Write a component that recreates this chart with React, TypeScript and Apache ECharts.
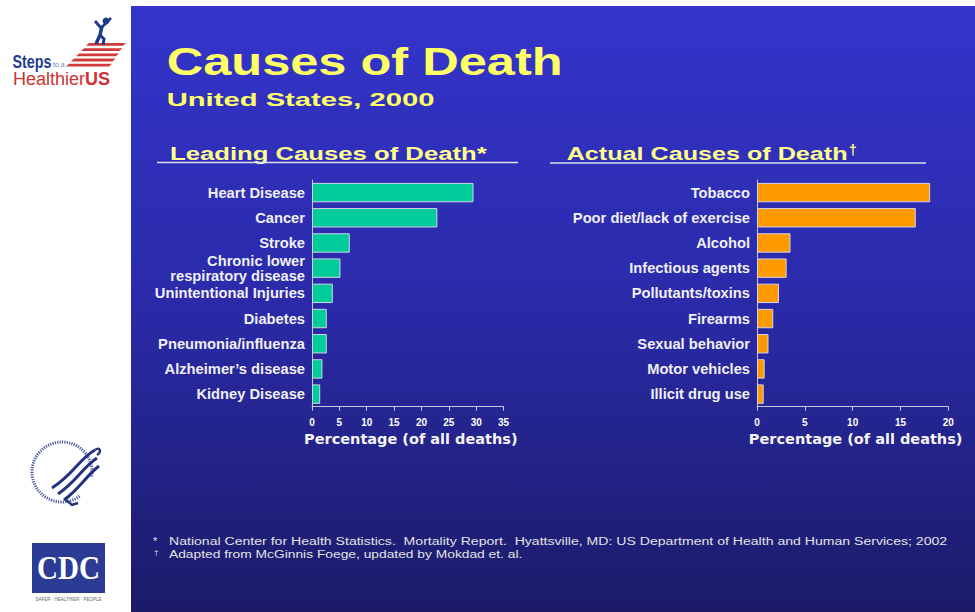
import React, { useEffect, useRef } from "react";
import * as echarts from "echarts";

// ---- data ----
const leadingCauses = [
  "Heart Disease",
  "Cancer",
  "Stroke",
  "Chronic lower\nrespiratory disease",
  "Unintentional Injuries",
  "Diabetes",
  "Pneumonia/influenza",
  "Alzheimer’s disease",
  "Kidney Disease",
];
const leadingValues = [29.5, 22.9, 6.9, 5.2, 3.8, 2.7, 2.7, 1.9, 1.5];

const actualCauses = [
  "Tobacco",
  "Poor diet/lack of exercise",
  "Alcohol",
  "Infectious agents",
  "Pollutants/toxins",
  "Firearms",
  "Sexual behavior",
  "Motor vehicles",
  "Illicit drug use",
];
const actualValues = [18.1, 16.6, 3.5, 3.1, 2.3, 1.7, 1.2, 0.8, 0.7];

const leadingAxis = { min: 0, max: 35, interval: 5 };
const actualAxis = { min: 0, max: 20, interval: 5 };

const title = "Causes of Death";
const subtitle = "United States, 2000";
const leftHeading = "Leading Causes of Death*";
const rightHeading = "Actual Causes of Death";
const axisName = "Percentage (of all deaths)";
const footnote1 =
  "National Center for Health Statistics.  Mortality Report.  Hyattsville, MD: US Department of Health and Human Services; 2002";
const footnote2 = "Adapted from McGinnis Foege, updated by Mokdad et. al.";

const SANS = '"Liberation Sans", Arial, sans-serif';
const WIDE = '"DejaVu Sans", Verdana, sans-serif';

function measure(text: string, font: string): number {
  const c = document.createElement("canvas").getContext("2d");
  if (!c) return 1;
  c.font = font;
  return c.measureText(text).width || 1;
}

function fitText(
  text: string,
  x: number,
  y: number,
  size: number,
  weight: string,
  family: string,
  color: string,
  targetWidth: number,
  extra: any = {}
) {
  const w = measure(text, `${weight} ${size}px ${family}`);
  return {
    type: "text",
    x,
    y,
    scaleX: targetWidth / w,
    z: 10,
    silent: true,
    style: {
      text,
      fill: color,
      fontSize: size,
      fontWeight: weight,
      fontFamily: family,
      align: "left",
      verticalAlign: "middle",
    },
    ...extra,
  };
}

export default function App() {
  const ref = useRef<HTMLDivElement>(null);

  useEffect(() => {
    if (!ref.current) return;
    const chart = echarts.init(ref.current, null, { renderer: "svg" });

    const axisColor = "#c8c8de";
    const catLabel = {
      color: "#f0f0f4",
      fontFamily: SANS,
      fontWeight: "bold",
      fontSize: 14.7,
      lineHeight: 14.7,
      margin: 7,
      padding: [4, 0, 0, 0],
    };
    const valueAxisBase = (gridIndex: number, cfg: any) => ({
      gridIndex,
      type: "value",
      min: cfg.min,
      max: cfg.max,
      interval: cfg.interval,
      axisLine: { show: true, lineStyle: { color: axisColor, width: 1 } },
      axisTick: { show: true, length: 4, lineStyle: { color: axisColor } },
      splitLine: { show: false },
      axisLabel: {
        color: "#ffffff",
        fontFamily: SANS,
        fontWeight: "bold",
        fontSize: 10,
        margin: 11,
      },
      name: axisName,
      nameLocation: "middle",
      nameGap: 25,
      nameTextStyle: {
        color: "#f4f4f4",
        fontFamily: WIDE,
        fontWeight: "bold",
        fontSize: 14.5,
        padding: [0, 0, 0, 6],
      },
    });
    const catAxis = (gridIndex: number, data: string[]) => ({
      gridIndex,
      type: "category",
      data,
      inverse: true,
      axisLine: { show: true, lineStyle: { color: axisColor, width: 1 } },
      axisTick: { show: false },
      axisLabel: catLabel,
    });

    const stripes: any[] = [];
    for (let i = 0; i < 5; i++) {
      const y = 43 + i * 5.2;
      const x1 = 86 - i * 5;
      const x2 = 123 - i * 3.5;
      stripes.push({
        type: "polygon",
        silent: true,
        shape: {
          points: [
            [x1 + 3, y],
            [x2 + 3, y],
            [x2, y + 2.8],
            [x1, y + 2.8],
          ],
        },
        style: { fill: "#d23a3a" },
      });
    }

    const eagle: any[] = [];
    for (let i = 0; i < 3; i++) {
      eagle.push({
        type: "bezierCurve",
        silent: true,
        shape: {
          x1: 95 + i * 2,
          y1: 450 + i * 8,
          cpx1: 80 + i * 3,
          cpy1: 458 + i * 9,
          cpx2: 74 + i * 3,
          cpy2: 474 + i * 7,
          x2: 52 + i * 6,
          y2: 488 + i * 6,
        },
        style: { stroke: "#22327f", lineWidth: 3, fill: null },
      });
    }

    const graphic: any[] = [
      {
        type: "rect",
        z: -10,
        silent: true,
        shape: { x: 131, y: 6, width: 844, height: 606 },
        style: {
          fill: new echarts.graphic.LinearGradient(0, 0, 0, 1, [
            { offset: 0, color: "#3434cc" },
            { offset: 0.5, color: "#2a2aa8" },
            { offset: 1, color: "#1b1b68" },
          ]),
        },
      },
      fitText(title, 166.7, 62, 39, "bold", SANS, "#ffff66", 396),
      fitText(subtitle, 166.7, 99, 19, "bold", SANS, "#ffff66", 268),
      fitText(leftHeading, 170, 153.5, 19, "bold", SANS, "#ffff8c", 317),
      fitText(rightHeading, 566.7, 153.5, 19, "bold", SANS, "#ffff8c", 281),
      {
        type: "text",
        x: 849,
        y: 150,
        z: 10,
        silent: true,
        style: {
          text: "†",
          fill: "#ffff8c",
          fontSize: 14,
          fontWeight: "bold",
          fontFamily: SANS,
          align: "left",
          verticalAlign: "middle",
        },
      },
      {
        type: "line",
        silent: true,
        z: 10,
        shape: { x1: 157, y1: 162.5, x2: 518, y2: 162.5 },
        style: { stroke: "#e0e0ee", lineWidth: 1.5 },
      },
      {
        type: "line",
        silent: true,
        z: 10,
        shape: { x1: 550, y1: 163, x2: 926, y2: 163 },
        style: { stroke: "#e0e0ee", lineWidth: 1.5 },
      },
      // footnotes
      {
        type: "text",
        x: 153,
        y: 541,
        z: 10,
        silent: true,
        style: { text: "*", fill: "#e0e0e0", fontSize: 11, fontFamily: SANS, verticalAlign: "middle" },
      },
      {
        type: "text",
        x: 154,
        y: 552,
        z: 10,
        silent: true,
        style: { text: "†", fill: "#e0e0e0", fontSize: 8, fontFamily: SANS, verticalAlign: "middle" },
      },
      fitText(footnote1, 169, 540.5, 11.5, "normal", SANS, "#e2e2e2", 779),
      fitText(footnote2, 169, 554, 11.5, "normal", SANS, "#e2e2e2", 354),
      // Steps logo
      ...stripes,
      {
        type: "circle",
        silent: true,
        shape: { cx: 106, cy: 21, r: 3.5 },
        style: { fill: "#1e3a8a" },
      },
      {
        type: "polyline",
        silent: true,
        shape: { points: [[95, 21], [101, 28], [111, 18]] },
        style: { stroke: "#1e3a8a", lineWidth: 2.8, fill: null },
      },
      {
        type: "polyline",
        silent: true,
        shape: { points: [[102, 26], [100, 35], [96, 44]] },
        style: { stroke: "#1e3a8a", lineWidth: 3.5, fill: null },
      },
      {
        type: "polyline",
        silent: true,
        shape: { points: [[100, 35], [104, 39], [103, 45]] },
        style: { stroke: "#1e3a8a", lineWidth: 3, fill: null },
      },
      fitText("Steps", 12.5, 61.5, 18, "bold", SANS, "#1f3f8f", 39),
      {
        type: "text",
        x: 53,
        y: 64,
        silent: true,
        style: { text: "to a", fill: "#6f82b8", fontSize: 7, fontFamily: SANS, verticalAlign: "middle" },
      },
      {
        type: "text",
        x: 13,
        y: 79,
        silent: true,
        style: {
          text: "{a|Healthier}{b|US}",
          verticalAlign: "middle",
          rich: {
            a: { fill: "#cc3333", color: "#cc3333", fontSize: 18, fontFamily: SANS },
            b: { fill: "#cc3333", color: "#cc3333", fontSize: 18, fontFamily: SANS, fontWeight: "bold" },
          },
        },
      },
      // HHS seal
      {
        type: "arc",
        silent: true,
        shape: { cx: 62, cy: 472, r: 30, startAngle: Math.PI * 0.3, endAngle: Math.PI * 2.05 },
        style: { fill: null, stroke: "#4a56a0", lineWidth: 3, lineDash: [1.2, 1.2] },
      },
      ...eagle,
      {
        type: "bezierCurve",
        silent: true,
        shape: { x1: 95, y1: 450, cpx1: 100, cpy1: 446, cpx2: 102, cpy2: 452, x2: 97, y2: 455 },
        style: { stroke: "#22327f", lineWidth: 2.4, fill: null },
      },
      {
        type: "polyline",
        silent: true,
        shape: { points: [[66, 500], [72, 505], [78, 503]] },
        style: { stroke: "#22327f", lineWidth: 2.4, fill: null },
      },
      // CDC logo
      {
        type: "rect",
        silent: true,
        shape: { x: 32, y: 543, width: 73, height: 50 },
        style: { fill: "#2c3c95" },
      },
      fitText("CDC", 37, 568, 34, "bold", '"Liberation Serif", serif', "#ffffff", 63),
      {
        type: "text",
        x: 68.5,
        y: 599,
        silent: true,
        style: {
          text: "SAFER · HEALTHIER · PEOPLE",
          fill: "#666666",
          fontSize: 4.5,
          fontFamily: SANS,
          align: "center",
          verticalAlign: "middle",
        },
      },
    ];

    chart.setOption({
      animation: false,
      backgroundColor: "#ffffff",
      graphic,
      grid: [
        { left: 312, top: 180, width: 191.6, height: 226.7, containLabel: false },
        { left: 757, top: 180, width: 191.3, height: 226.7, containLabel: false },
      ],
      xAxis: [valueAxisBase(0, leadingAxis), valueAxisBase(1, actualAxis)],
      yAxis: [catAxis(0, leadingCauses), catAxis(1, actualCauses)],
      series: [
        {
          type: "bar",
          xAxisIndex: 0,
          yAxisIndex: 0,
          data: leadingValues,
          barCategoryGap: "23%",
          itemStyle: { color: "#00cc99", borderColor: "#d4d4e6", borderWidth: 1 },
        },
        {
          type: "bar",
          xAxisIndex: 1,
          yAxisIndex: 1,
          data: actualValues,
          barCategoryGap: "23%",
          itemStyle: { color: "#ff9900", borderColor: "#d4d4e6", borderWidth: 1 },
        },
      ],
    });

    return () => chart.dispose();
  }, []);

  return (
    <div
      ref={ref}
      style={{ position: "fixed", left: 0, top: 0, width: 975, height: 612 }}
    />
  );
}
